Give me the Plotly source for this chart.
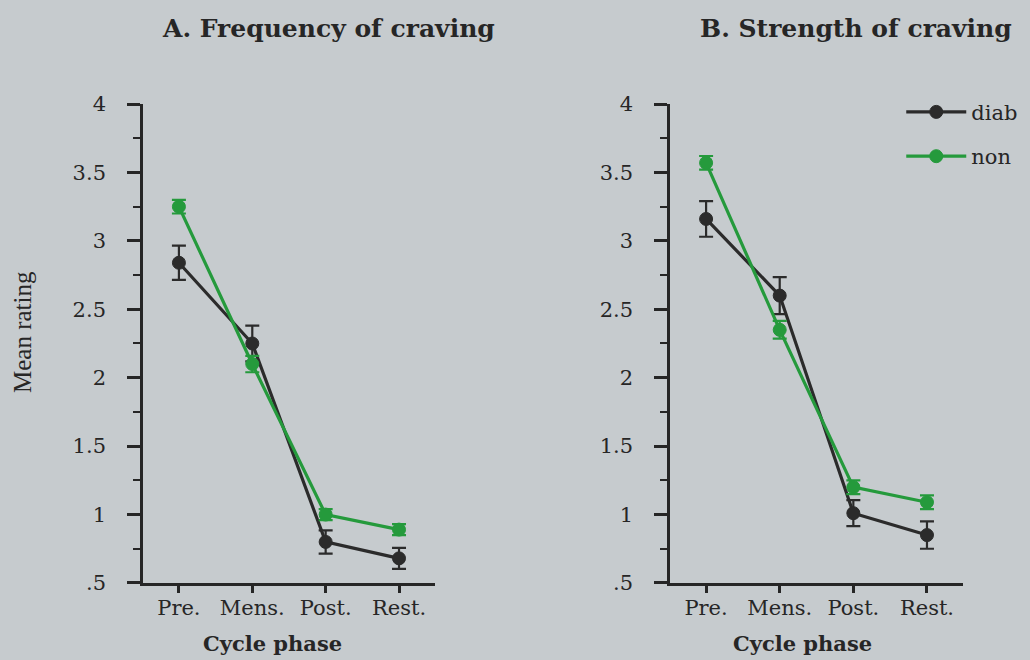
import plotly.graph_objects as go

# ---- data ----
phases = ["Pre.", "Mens.", "Post.", "Rest."]

freq_diab = [2.84, 2.25, 0.80, 0.68]
freq_diab_err = [0.125, 0.13, 0.085, 0.077]
freq_non = [3.25, 2.10, 1.00, 0.89]
freq_non_err = [0.05, 0.06, 0.04, 0.04]

str_diab = [3.16, 2.60, 1.01, 0.85]
str_diab_err = [0.13, 0.135, 0.095, 0.10]
str_non = [3.57, 2.35, 1.20, 1.09]
str_non_err = [0.05, 0.065, 0.05, 0.05]

y_tick_vals = [0.5, 1, 1.5, 2, 2.5, 3, 3.5, 4]
y_tick_text = [".5", "1", "1.5", "2", "2.5", "3", "3.5", "4"]

group_names = ["diab", "non"]
panel_titles = ["A. Frequency of craving", "B. Strength of craving"]
x_title = "Cycle phase"
y_title = "Mean rating"

# ---- styles ----
BG = "#c6cbce"
INK = "#262626"
DIAB = "#2b2b2b"
NON = "#259a3c"
SERIF = "DejaVu Serif"
TIMES = "Liberation Serif"

fig = go.Figure()


def add_series(x_ax, y_ax, vals, errs, color, name, show):
    fig.add_trace(go.Scatter(
        x=phases, y=vals, xaxis=x_ax, yaxis=y_ax,
        mode="lines+markers", name=name, legendgroup=name, showlegend=show,
        line=dict(color=color, width=3.2),
        marker=dict(color=color, size=13, line=dict(color=color, width=1)),
        error_y=dict(type="data", array=errs, color=color, thickness=2.2, width=7),
    ))


add_series("x", "y", freq_diab, freq_diab_err, DIAB, group_names[0], True)
add_series("x", "y", freq_non, freq_non_err, NON, group_names[1], True)
add_series("x2", "y2", str_diab, str_diab_err, DIAB, group_names[0], False)
add_series("x2", "y2", str_non, str_non_err, NON, group_names[1], False)

xcommon = dict(
    type="category", range=[-0.49, 3.49], showline=True, linecolor=INK, linewidth=2.5,
    ticks="outside", ticklen=7, tickwidth=2.5, tickcolor=INK, ticklabelstandoff=-3,
    showgrid=False, zeroline=False, automargin=False,
    tickfont=dict(family=SERIF, size=21, color=INK), fixedrange=True,
)
ycommon = dict(
    range=[0.5, 4], showline=True, linecolor=INK, linewidth=2.5,
    ticks="outside", ticklen=13, tickwidth=2.5, tickcolor=INK, ticklabelstandoff=17,
    tickmode="array", tickvals=y_tick_vals, ticktext=y_tick_text,
    minor=dict(ticks="outside", tick0=0.5, dtick=0.25, ticklen=7, tickwidth=2, tickcolor=INK),
    showgrid=False, zeroline=False, automargin=False,
    tickfont=dict(family=SERIF, size=21, color=INK), fixedrange=True,
)

fig.update_layout(
    width=1030, height=660,
    margin=dict(l=0, r=0, t=0, b=0, autoexpand=False),
    paper_bgcolor=BG, plot_bgcolor=BG,
    xaxis=dict(domain=[0.1388, 0.4223], anchor="y", **xcommon),
    yaxis=dict(domain=[0.1167, 0.8424], anchor="x", **ycommon),
    xaxis2=dict(domain=[0.6505, 0.935], anchor="y2", **xcommon),
    yaxis2=dict(domain=[0.1167, 0.8424], anchor="x2", **ycommon),
    legend=dict(
        x=0.875, y=0.861, xanchor="left", yanchor="top",
        bgcolor="rgba(0,0,0,0)", font=dict(family=SERIF, size=21, color=INK),
        tracegroupgap=14, itemwidth=60,
    ),
    annotations=[
        dict(text="<b>" + panel_titles[0] + "</b>", x=328 / 1030, y=1 - 28 / 660,
             xanchor="center", yanchor="middle",
             xref="paper", yref="paper", showarrow=False,
             font=dict(family=SERIF, size=25, color=INK)),
        dict(text="<b>" + panel_titles[1] + "</b>", x=856 / 1030, y=1 - 28 / 660,
             xanchor="center", yanchor="middle",
             xref="paper", yref="paper", showarrow=False,
             font=dict(family=SERIF, size=25, color=INK)),
        dict(text="<b>" + x_title + "</b>", x=272 / 1030, y=1 - 643 / 660,
             xanchor="center", yanchor="middle",
             xref="paper", yref="paper", showarrow=False,
             font=dict(family=SERIF, size=21, color=INK)),
        dict(text="<b>" + x_title + "</b>", x=802 / 1030, y=1 - 643 / 660,
             xanchor="center", yanchor="middle",
             xref="paper", yref="paper", showarrow=False,
             font=dict(family=SERIF, size=21, color=INK)),
        dict(text=y_title, x=22 / 1030, y=1 - 332 / 660, textangle=-90,
             xanchor="center", yanchor="middle",
             xref="paper", yref="paper", showarrow=False,
             font=dict(family=TIMES, size=25, color=INK)),
    ],
)

fig.write_html("out.html")
